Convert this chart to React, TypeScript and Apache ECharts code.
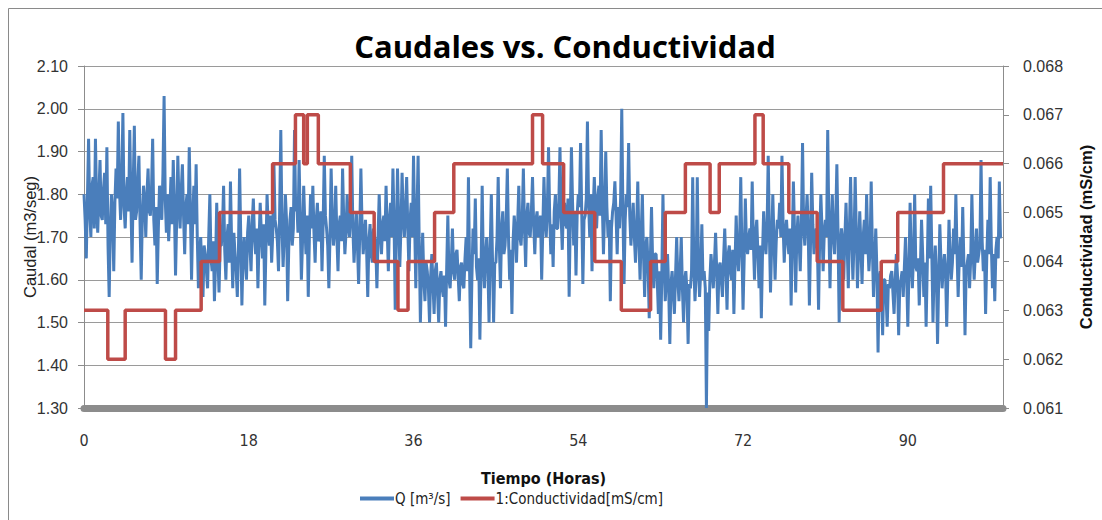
import React, { useEffect, useRef } from "react";
import * as echarts from "echarts";

// Q [m3/s], one value every 0.125 h starting at hour 0 (8 values per hour per row)
const caudal: number[] = [
  1.80, 1.74, 1.65, 1.79, 1.93, 1.76, 1.70, 1.82,
  1.84, 1.72, 1.93, 1.78, 1.71, 1.80, 1.88, 1.75,
  1.74, 1.81, 1.85, 1.73, 1.91, 1.68, 1.56, 1.72,
  1.80, 1.75, 1.62, 1.78, 1.86, 1.79, 1.97, 1.81,
  1.74, 1.83, 1.99, 1.77, 1.72, 1.80, 1.84, 1.76,
  1.95, 1.78, 1.64, 1.82, 1.96, 1.74, 1.76, 1.83,
  1.89, 1.73, 1.60, 1.75, 1.82, 1.78, 1.70, 1.80,
  1.86, 1.76, 1.75, 1.81, 1.93, 1.74, 1.68, 1.77,
  1.59, 1.72, 1.82, 1.78, 1.74, 1.85, 2.03, 1.79,
  1.71, 1.80, 1.69, 1.76, 1.84, 1.73, 1.88, 1.77,
  1.61, 1.74, 1.89, 1.78, 1.72, 1.81, 1.87, 1.75,
  1.66, 1.77, 1.80, 1.73, 1.91, 1.76, 1.60, 1.74,
  1.82, 1.73, 1.87, 1.70, 1.58, 1.66, 1.70, 1.62,
  1.56, 1.68, 1.66, 1.62, 1.58, 1.70, 1.80, 1.65,
  1.62, 1.69, 1.55, 1.64, 1.78, 1.66, 1.57, 1.68,
  1.68, 1.72, 1.82, 1.67, 1.60, 1.70, 1.73, 1.64,
  1.83, 1.69, 1.58, 1.71, 1.66, 1.62, 1.56, 1.67,
  1.86, 1.70, 1.54, 1.66, 1.70, 1.64, 1.60, 1.71,
  1.75, 1.68, 1.62, 1.73, 1.79, 1.70, 1.66, 1.72,
  1.58, 1.69, 1.78, 1.71, 1.65, 1.73, 1.54, 1.67,
  1.80, 1.72, 1.68, 1.75, 1.64, 1.71, 1.87, 1.74,
  1.72, 1.69, 1.62, 1.76, 1.95, 1.73, 1.63, 1.70,
  1.80, 1.74, 1.55, 1.68, 1.74, 1.77, 1.68, 1.72,
  1.95, 1.76, 1.78, 1.71, 1.88, 1.74, 1.60, 1.69,
  1.82, 1.73, 1.66, 1.75, 1.56, 1.70, 1.80, 1.72,
  1.82, 1.71, 1.64, 1.74, 1.78, 1.69, 1.70, 1.76,
  1.62, 1.73, 1.89, 1.75, 1.72, 1.68, 1.58, 1.70,
  1.86, 1.74, 1.68, 1.72, 1.82, 1.70, 1.62, 1.73,
  1.75, 1.69, 1.86, 1.74, 1.66, 1.71, 1.80, 1.73,
  1.70, 1.76, 1.89, 1.72, 1.64, 1.70, 1.76, 1.68,
  1.59, 1.71, 1.86, 1.73, 1.66, 1.70, 1.74, 1.67,
  1.56, 1.69, 1.73, 1.66, 1.64, 1.72, 1.70, 1.68,
  1.58, 1.70, 1.80, 1.71, 1.66, 1.73, 1.75, 1.69,
  1.82, 1.72, 1.62, 1.74, 1.78, 1.70, 1.86, 1.73,
  1.53, 1.70, 1.86, 1.74, 1.63, 1.72, 1.85, 1.75,
  1.70, 1.76, 1.84, 1.72, 1.62, 1.74, 1.78, 1.70,
  1.89, 1.73, 1.58, 1.75, 1.89, 1.68, 1.50, 1.62,
  1.71, 1.60, 1.55, 1.64, 1.62, 1.58, 1.50, 1.61,
  1.66, 1.59, 1.52, 1.62, 1.64, 1.57, 1.50, 1.60,
  1.62, 1.58, 1.56, 1.61, 1.49, 1.63, 1.75, 1.60,
  1.58, 1.64, 1.72, 1.62, 1.60, 1.66, 1.67, 1.61,
  1.55, 1.63, 1.64, 1.59, 1.58, 1.65, 1.70, 1.62,
  1.84, 1.62, 1.44, 1.60, 1.72, 1.66, 1.79, 1.63,
  1.60, 1.65, 1.46, 1.62, 1.82, 1.64, 1.58, 1.66,
  1.70, 1.63, 1.50, 1.67, 1.80, 1.65, 1.50, 1.64,
  1.64, 1.70, 1.84, 1.68, 1.58, 1.72, 1.76, 1.66,
  1.68, 1.74, 1.86, 1.70, 1.60, 1.67, 1.52, 1.69,
  1.75, 1.71, 1.64, 1.73, 1.82, 1.70, 1.68, 1.74,
  1.86, 1.72, 1.63, 1.75, 1.78, 1.71, 1.70, 1.76,
  1.84, 1.73, 1.66, 1.74, 1.76, 1.70, 1.72, 1.75,
  1.60, 1.72, 1.84, 1.74, 1.70, 1.77, 1.91, 1.75,
  1.66, 1.73, 1.63, 1.76, 1.80, 1.72, 1.72, 1.78,
  1.91, 1.75, 1.67, 1.77, 1.78, 1.73, 1.72, 1.79,
  1.56, 1.74, 1.91, 1.78, 1.68, 1.76, 1.61, 1.75,
  1.80, 1.77, 1.92, 1.76, 1.59, 1.74, 1.75, 1.79,
  1.97, 1.78, 1.70, 1.80, 1.62, 1.76, 1.84, 1.77,
  1.72, 1.79, 1.82, 1.75, 1.95, 1.78, 1.66, 1.76,
  1.90, 1.77, 1.70, 1.74, 1.55, 1.72, 1.76, 1.78,
  1.83, 1.75, 1.66, 1.77, 1.72, 1.79, 2.00, 1.76,
  1.59, 1.74, 1.80, 1.77, 1.92, 1.75, 1.68, 1.73,
  1.78, 1.70, 1.64, 1.72, 1.83, 1.69, 1.60, 1.71,
  1.80, 1.66, 1.56, 1.68, 1.70, 1.63, 1.51, 1.65,
  1.77, 1.64, 1.58, 1.66, 1.66, 1.60, 1.52, 1.62,
  1.46, 1.61, 1.80, 1.64, 1.55, 1.60, 1.66, 1.58,
  1.45, 1.59, 1.62, 1.57, 1.52, 1.61, 1.70, 1.60,
  1.55, 1.62, 1.70, 1.58, 1.50, 1.60, 1.62, 1.57,
  1.45, 1.59, 1.58, 1.62, 1.84, 1.63, 1.55, 1.61,
  1.84, 1.64, 1.56, 1.62, 1.73, 1.60, 1.62, 1.58,
  1.30, 1.57, 1.48, 1.60, 1.66, 1.62, 1.58, 1.64,
  1.71, 1.62, 1.52, 1.63, 1.64, 1.60, 1.56, 1.65,
  1.72, 1.63, 1.53, 1.66, 1.68, 1.62, 1.60, 1.67,
  1.52, 1.64, 1.75, 1.66, 1.62, 1.69, 1.84, 1.67,
  1.53, 1.65, 1.79, 1.68, 1.66, 1.70, 1.72, 1.67,
  1.83, 1.69, 1.60, 1.71, 1.74, 1.66, 1.58, 1.68,
  1.51, 1.66, 1.76, 1.70, 1.66, 1.72, 1.89, 1.71,
  1.57, 1.68, 1.80, 1.70, 1.60, 1.69, 1.74, 1.72,
  1.78, 1.70, 1.89, 1.73, 1.64, 1.71, 1.74, 1.69,
  1.66, 1.72, 1.54, 1.68, 1.83, 1.71, 1.57, 1.70,
  1.75, 1.69, 1.62, 1.73, 1.92, 1.72, 1.68, 1.74,
  1.80, 1.71, 1.54, 1.69, 1.85, 1.73, 1.66, 1.70,
  1.72, 1.68, 1.53, 1.70, 1.80, 1.72, 1.62, 1.71,
  1.74, 1.70, 1.95, 1.73, 1.58, 1.72, 1.80, 1.70,
  1.66, 1.74, 1.87, 1.71, 1.50, 1.68, 1.72, 1.69,
  1.60, 1.70, 1.78, 1.68, 1.58, 1.72, 1.84, 1.70,
  1.60, 1.69, 1.84, 1.71, 1.58, 1.67, 1.76, 1.68,
  1.59, 1.70, 1.74, 1.66, 1.80, 1.69, 1.62, 1.67,
  1.83, 1.68, 1.56, 1.64, 1.72, 1.62, 1.43, 1.60,
  1.62, 1.58, 1.47, 1.60, 1.60, 1.56, 1.49, 1.59,
  1.58, 1.61, 1.62, 1.57, 1.52, 1.60, 1.66, 1.61,
  1.47, 1.59, 1.60, 1.62, 1.56, 1.63, 1.70, 1.61,
  1.49, 1.62, 1.78, 1.64, 1.58, 1.66, 1.80, 1.63,
  1.62, 1.65, 1.54, 1.63, 1.74, 1.66, 1.56, 1.64,
  1.49, 1.63, 1.79, 1.65, 1.82, 1.66, 1.50, 1.62,
  1.68, 1.61, 1.45, 1.60, 1.73, 1.64, 1.58, 1.63,
  1.66, 1.62, 1.49, 1.61, 1.74, 1.65, 1.60, 1.64,
  1.72, 1.66, 1.80, 1.67, 1.56, 1.65, 1.70, 1.63,
  1.77, 1.64, 1.47, 1.62, 1.64, 1.66, 1.58, 1.65,
  1.80, 1.67, 1.60, 1.66, 1.72, 1.64, 1.66, 1.68,
  1.88, 1.69, 1.62, 1.67, 1.52, 1.65, 1.74, 1.66,
  1.84, 1.68, 1.58, 1.66, 1.55, 1.67, 1.70, 1.65,
  1.83, 1.70, 1.70,
];
const caudalStepHours = 0.125;

// Conductividad [mS/cm]: hour at which each level starts, and the level
const condHours: number[] = [
  0, 2.6, 4.5, 8.9, 10.0, 12.8, 14.8, 20.6, 23.1, 24.0, 24.4, 25.6, 29.1,
  31.7, 34.3, 35.4, 38.3, 40.4, 49.0, 50.1, 52.4, 55.8, 58.7, 61.9, 63.5,
  65.7, 68.4, 69.4, 73.3, 74.2, 77.0, 80.1, 82.9, 87.1, 88.9, 93.9, 100.4,
];
const condValues: number[] = [
  0.063, 0.062, 0.063, 0.062, 0.063, 0.064, 0.065, 0.066, 0.067, 0.066, 0.067,
  0.066, 0.065, 0.064, 0.063, 0.064, 0.065, 0.066, 0.067, 0.066, 0.065, 0.064,
  0.063, 0.064, 0.065, 0.066, 0.065, 0.066, 0.067, 0.066, 0.065, 0.064, 0.063,
  0.064, 0.065, 0.066, 0.066,
];

const xTicks: number[] = [0, 18, 36, 54, 72, 90];
const titleText = "Caudales vs. Conductividad";
const seriesNames = ["Q [m³/s]", "1:Conductividad[mS/cm]"];

const FONT = "'Liberation Sans', 'DejaVu Sans', sans-serif";
const NARROW = "'Liberation Sans Narrow', 'DejaVu Sans Condensed', 'Liberation Sans', sans-serif";

export default function App() {
  const ref = useRef<HTMLDivElement>(null);
  useEffect(() => {
    if (!ref.current) return;
    const chart = echarts.init(ref.current, undefined, { renderer: "svg" });
    const qData = caudal.map((v, i) => [i * caudalStepHours, v]);
    const cData = condHours.map((h, i) => [h, condValues[i]]);
    chart.setOption({
      animation: false,
      backgroundColor: "#ffffff",
      title: {
        text: titleText,
        left: 560,
        textAlign: "center",
        top: 25,
        textStyle: { fontFamily: "'Open Sans', sans-serif", fontWeight: "bold", fontSize: 31, color: "#000" },
      },
      legend: {
        left: 355,
        top: 486,
        itemWidth: 34,
        itemHeight: 4,
        itemGap: 10,
        icon: "rect",
        textStyle: { fontFamily: NARROW, fontSize: 15, color: "#222", padding: [0, 0, 0, -4] },
        data: seriesNames,
      },
      grid: { left: 84, right: 94, top: 66, bottom: 112 },
      xAxis: {
        type: "value",
        min: 0,
        max: 100.4,
        interval: 18,
        name: "Tiempo (Horas)",
        nameLocation: "middle",
        nameGap: 62,
        nameMoveOverlap: false,
        nameTextStyle: { fontFamily: NARROW, fontWeight: "bold", fontSize: 16, color: "#111" },
        axisLine: { show: true, onZero: false, lineStyle: { color: "#8c8c8c", width: 7 } },
        axisTick: { show: false },
        splitLine: { show: false },
        axisLabel: {
          margin: 24,
          showMaxLabel: false,
          fontFamily: NARROW,
          fontSize: 16,
          color: "#333",
          formatter: (v: number) => (xTicks.indexOf(v) >= 0 ? String(v) : ""),
        },
      },
      yAxis: [
        {
          type: "value",
          min: 1.3,
          max: 2.1,
          interval: 0.1,
          name: "Caudal (m3/seg)",
          nameLocation: "middle",
          nameGap: 46,
          nameMoveOverlap: false,
          nameTextStyle: { fontFamily: FONT, fontSize: 16.5, color: "#222" },
          axisLine: { show: true, lineStyle: { color: "#8c8c8c", width: 1 } },
          axisTick: { show: true, length: 6, lineStyle: { color: "#8c8c8c" } },
          splitLine: { show: true, lineStyle: { color: "#9a9a9a", width: 1 } },
          axisLabel: {
            margin: 16,
            fontFamily: FONT,
            fontSize: 16,
            color: "#333",
            formatter: (v: number) => v.toFixed(2),
          },
        },
        {
          type: "value",
          min: 0.061,
          max: 0.068,
          interval: 0.001,
          name: "Conductividad (mS/cm)",
          nameLocation: "middle",
          nameGap: 74,
          nameTextStyle: { fontFamily: FONT, fontWeight: "bold", fontSize: 16.5, color: "#111" },
          axisLine: { show: true, lineStyle: { color: "#8c8c8c", width: 1 } },
          axisTick: { show: true, length: 6, lineStyle: { color: "#8c8c8c" } },
          splitLine: { show: false },
          axisLabel: {
            margin: 20,
            fontFamily: FONT,
            fontSize: 16,
            color: "#333",
            formatter: (v: number) => v.toFixed(3),
          },
        },
      ],
      series: [
        {
          name: seriesNames[0],
          type: "line",
          yAxisIndex: 0,
          data: qData,
          showSymbol: false,
          symbol: "none",
          lineStyle: { color: "#4a7ebb", width: 3 },
          itemStyle: { color: "#4a7ebb" },
          z: 2,
        },
        {
          name: seriesNames[1],
          type: "line",
          yAxisIndex: 1,
          data: cData,
          step: "end",
          showSymbol: false,
          symbol: "none",
          lineStyle: { color: "#be4b48", width: 3.5 },
          itemStyle: { color: "#be4b48" },
          z: 3,
        },
      ],
      graphic: [
        {
          type: "rect",
          shape: { x: 8.5, y: 8.5, width: 1100, height: 520 },
          style: { fill: "none", stroke: "#8a8a8a", lineWidth: 1 },
          silent: true,
        },
      ],
    });
    return () => chart.dispose();
  }, []);
  return (
    <div
      ref={ref}
      style={{ position: "fixed", left: 0, top: 0, width: 1102, height: 520, background: "#fff" }}
    />
  );
}
